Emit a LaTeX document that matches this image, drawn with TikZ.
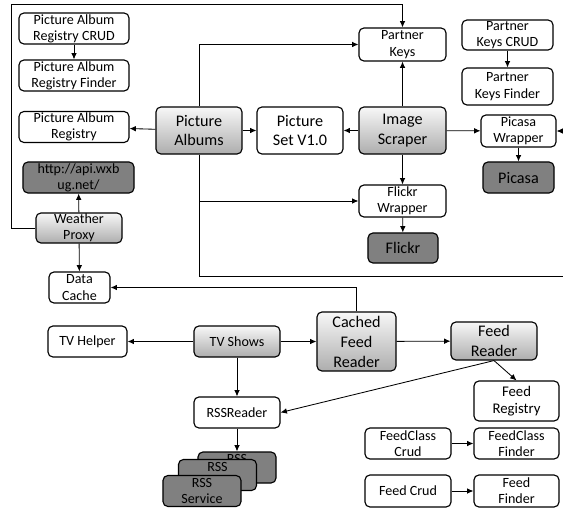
\documentclass[tikz,border=0pt]{standalone}
\usepackage{fontspec}
\setmainfont{Carlito}
\usetikzlibrary{arrows.meta}

\begin{document}
\begin{tikzpicture}[
    x=0.025cm, y=-0.025cm,
    every node/.style={draw, rounded corners=3.5pt, align=center, inner sep=0pt,
        line width=0.8pt, font=\fontsize{10}{11.6}\selectfont},
    box/.style={fill=white},
    core/.style={top color=black!3, bottom color=black!32},
    ext/.style={fill=black!50},
    big/.style={font=\fontsize{11.5}{14.2}\selectfont},
    link/.style={-{Latex[length=4.5pt,width=4pt]}, line width=0.6pt}
]
\useasboundingbox (0,0) rectangle (563,510);

\node[box, minimum width=2.75cm, minimum height=0.775cm] (parCrud) at (74,28.5) {Picture Album\\Registry CRUD};
\node[box, minimum width=2.75cm, minimum height=0.775cm] (parFinder) at (74,75.5) {Picture Album\\Registry Finder};
\node[box, minimum width=2.75cm, minimum height=0.775cm] (parReg) at (74,127) {Picture Album\\Registry};
\node[ext, minimum width=2.775cm, minimum height=0.775cm] (wxbug) at (78.5,177.5) {http://api.wxb\\ug.net/};
\node[core, minimum width=2.15cm, minimum height=0.75cm] (proxy) at (79,228) {Weather\\Proxy};
\node[box, minimum width=1.525cm, minimum height=0.775cm] (cache) at (79.5,287.5) {Data\\Cache};

\node[core, big, minimum width=2.15cm, minimum height=1.175cm] (albums) at (199,130.5) {Picture\\Albums};
\node[box, big, minimum width=2.15cm, minimum height=1.175cm] (picSet) at (300,130.5) {Picture\\Set V1.0};
\node[core, big, minimum width=2.175cm, minimum height=1.175cm] (scraper) at (402.5,130.5) {Image\\Scraper};

\node[box, minimum width=2.175cm, minimum height=0.825cm] (pKeys) at (402.5,44.5) {Partner\\Keys};
\node[box, minimum width=2.275cm, minimum height=0.75cm] (pkCrud) at (507.5,35) {Partner\\Keys CRUD};
\node[box, minimum width=2.275cm, minimum height=0.925cm] (pkFinder) at (507.5,86.5) {Partner\\Keys Finder};

\node[box, minimum width=1.875cm, minimum height=0.8cm] (picasaW) at (518.5,131) {Picasa\\Wrapper};
\node[ext, big, minimum width=1.775cm, minimum height=0.775cm] (picasa) at (518.5,177.5) {Picasa};
\node[box, minimum width=2.175cm, minimum height=0.8cm] (flickrW) at (402.5,201) {Flickr\\Wrapper};
\node[ext, big, minimum width=1.75cm, minimum height=0.75cm] (flickr) at (403,248) {Flickr};

\node[box, minimum width=1.975cm, minimum height=0.775cm] (tvHelper) at (87.5,341.5) {TV Helper};
\node[core, minimum width=2.15cm, minimum height=0.775cm] (tvShows) at (237,341.5) {TV Shows};
\node[core, big, minimum width=1.975cm, minimum height=1.475cm] (cached) at (356.5,341.5) {Cached\\Feed\\Reader};
\node[core, big, minimum width=2.15cm, minimum height=0.95cm] (feed) at (494,341) {Feed\\Reader};
\node[box, font=\fontsize{10.5}{12}\selectfont, minimum width=2.125cm, minimum height=1cm] (feedReg) at (516.5,401) {Feed\\Registry};
\node[box, minimum width=2.15cm, minimum height=0.775cm] (rssReader) at (237,412.5) {RSSReader};

\node[ext, minimum width=1.95cm, minimum height=0.775cm] (rss3) at (237,467.5) {RSS\\Service};
\node[ext, minimum width=1.95cm, minimum height=0.775cm] (rss2) at (217.5,475) {RSS\\Service};
\node[ext, minimum width=1.95cm, minimum height=0.775cm] (rss1) at (202,491) {RSS\\Service};

\node[box, minimum width=2.15cm, minimum height=0.775cm] (fcCrud) at (408,443.5) {FeedClass\\Crud};
\node[box, minimum width=2.125cm, minimum height=0.775cm] (fcFinder) at (516.5,443.5) {FeedClass\\Finder};
\node[box, minimum width=2.15cm, minimum height=0.8cm] (fCrud) at (408,491) {Feed Crud};
\node[box, minimum width=2.125cm, minimum height=0.8cm] (fFinder) at (516.5,491) {Feed\\Finder};

\coordinate (topLeft) at (11,4);
\coordinate (albumsEnd) at (563,276);
\coordinate (picasaIn) at (563,131);

\draw[link] (parCrud) -- (parFinder);
\draw[link] (albums) -- (parReg);
\draw[link] (albums) -- (picSet);
\draw[link] (albums.north) |- (pKeys.west);
\draw[link] (albums.south) |- (flickrW.west);
\draw[line width=0.6pt] (albums.south) |- (albumsEnd);
\draw[link] (scraper) -- (picSet);
\draw[link] (scraper) -- (pKeys);
\draw[link] (scraper) -- (picasaW);
\draw[link] (scraper) -- (flickrW);
\draw[link] (pkCrud) -- (pkFinder);
\draw[link] (picasaW) -- (picasa);
\draw[link] (picasaIn) -- (picasaW);
\draw[link] (flickrW) -- (flickr);
\draw[link] (proxy) -- (wxbug);
\draw[link] (proxy) -- (cache);
\draw[link] (proxy.west) -| (topLeft) -| (pKeys.north);
\draw[link] (cached.north) |- (cache.east);
\draw[link] (tvShows) -- (tvHelper);
\draw[link] (tvShows) -- (cached);
\draw[link] (tvShows) -- (rssReader);
\draw[link] (cached) -- (feed);
\draw[link] (feed.south) -- (rssReader.east);
\draw[link] (feed.south) -- (feedReg.north);
\draw[link] (rssReader) -- (rss3);
\draw[link] (fcCrud) -- (fcFinder);
\draw[link] (fCrud) -- (fFinder);

\end{tikzpicture}
\end{document}
